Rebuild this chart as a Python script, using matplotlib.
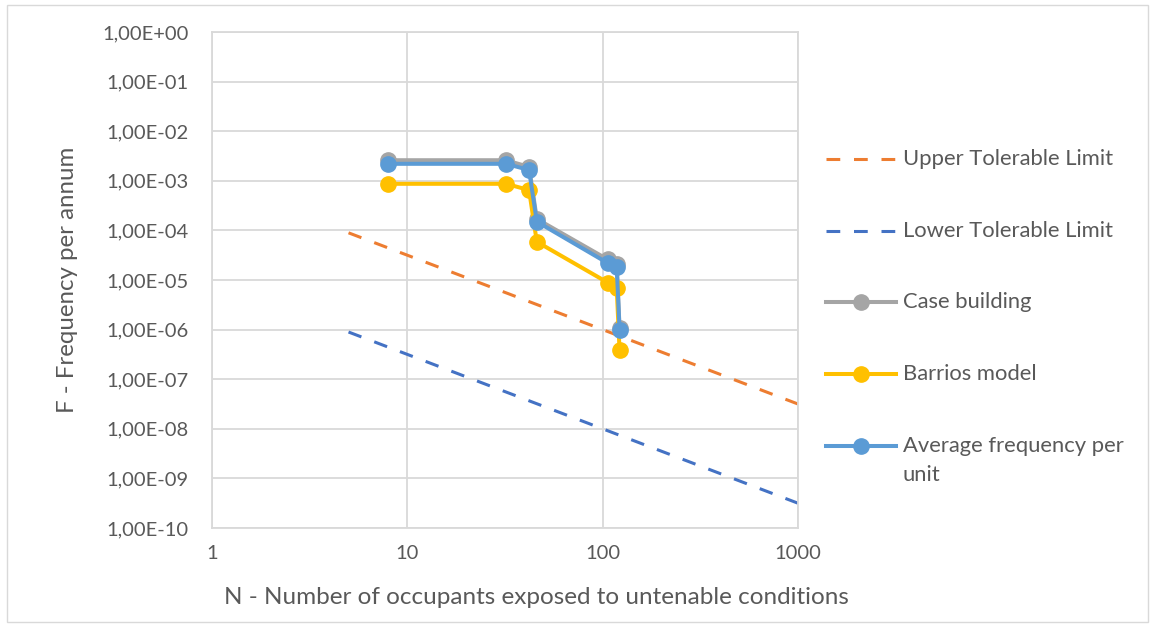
import matplotlib
matplotlib.use("Agg")
import matplotlib.pyplot as plt
from matplotlib.lines import Line2D
from matplotlib.patches import Rectangle
from matplotlib.ticker import FixedLocator, FuncFormatter, NullLocator

plt.rcParams['font.family'] = ['Lato', 'DejaVu Sans']

# Number of occupants exposed (N) for each scenario step
n_occupants = [8, 32, 42, 46, 106, 118, 122]

# Cumulative frequency per annum (F)
case_building = [2.6e-3, 2.6e-3, 1.9e-3, 1.7e-4, 2.6e-5, 2.1e-5, 1.1e-6]
barrios_model = [8.7e-4, 8.7e-4, 6.5e-4, 5.9e-5, 8.9e-6, 7.0e-6, 3.9e-7]
average_per_unit = [2.2e-3, 2.2e-3, 1.65e-3, 1.5e-4, 2.2e-5, 1.85e-5, 1.0e-6]

# Tolerability criteria, straight lines on log-log axes
limit_n = [5, 1000]
upper_limit = [8.94e-5, 3.16e-8]
lower_limit = [8.94e-7, 3.16e-10]

x_ticks = [1, 10, 100, 1000]
y_ticks = [10.0 ** -k for k in range(0, 11)]

C_UPPER = '#ED7D31'
C_LOWER = '#4472C4'
C_CASE = '#A5A5A5'
C_BARRIOS = '#FFC000'
C_AVG = '#5B9BD5'
TEXT = '#595959'
GRID = '#D9D9D9'

W, H = 1152, 628
fig = plt.figure(figsize=(W / 100, H / 100), dpi=100)
ax = fig.add_axes([212 / W, 1 - 528 / H, (798 - 212) / W, (528 - 32) / H])

dash = (0, (4.5, 4.5))
ax.plot(limit_n, upper_limit, color=C_UPPER, lw=2.2, linestyle=dash)
ax.plot(limit_n, lower_limit, color=C_LOWER, lw=2.2, linestyle=dash)

mk = dict(marker='o', markersize=11, lw=2.9)
ax.plot(n_occupants, case_building, color=C_CASE, **mk)
ax.plot(n_occupants, barrios_model, color=C_BARRIOS, **mk)
ax.plot(n_occupants, average_per_unit, color=C_AVG, **mk)

ax.set_xscale('log')
ax.set_yscale('log')
ax.set_xlim(1, 1000)
ax.set_ylim(1e-10, 1)

ax.xaxis.set_major_locator(FixedLocator(x_ticks))
ax.xaxis.set_minor_locator(NullLocator())
ax.yaxis.set_major_locator(FixedLocator(y_ticks))
ax.yaxis.set_minor_locator(NullLocator())
ax.xaxis.set_major_formatter(FuncFormatter(lambda v, p: f"{v:g}"))
ax.yaxis.set_major_formatter(FuncFormatter(lambda v, p: f"{v:.2E}".replace('.', ',')))

ax.grid(True, color=GRID, lw=1.3)
ax.set_axisbelow(True)
for side in ['top', 'right', 'left', 'bottom']:
    ax.spines[side].set_color(GRID)
    ax.spines[side].set_linewidth(1.3)
ax.tick_params(axis='both', length=0, labelsize=14.5, colors=TEXT)
ax.tick_params(axis='y', pad=17)
ax.tick_params(axis='x', pad=12)

fig.text(536 / W, 1 - 598 / H, 'N - Number of occupants exposed to untenable conditions',
         ha='center', va='center', fontsize=17.5, color=TEXT)
fig.text(68 / W, 1 - 280 / H, 'F - Frequency per annum', rotation=90,
         ha='center', va='center', fontsize=17.3, color=TEXT)

# Legend drawn at fixed positions to the right of the plot
LEG_FS = 15.8
entries = [
    ('Upper Tolerable Limit', C_UPPER, True, 159),
    ('Lower Tolerable Limit', C_LOWER, True, 231),
    ('Case building', C_CASE, False, 302),
    ('Barrios model', C_BARRIOS, False, 374),
    ('Average frequency per\nunit', C_AVG, False, 446),
]
for label, color, dashed, ypx in entries:
    yf = 1 - ypx / H
    if dashed:
        fig.add_artist(Line2D([826 / W, 896 / W], [yf, yf], transform=fig.transFigure,
                              color=color, lw=2.2, linestyle=dash))
    else:
        fig.add_artist(Line2D([826 / W, 896 / W], [yf, yf], transform=fig.transFigure,
                              color=color, lw=2.9))
        fig.add_artist(Line2D([861 / W], [yf], transform=fig.transFigure,
                              color=color, marker='o', markersize=11, lw=0))
    lines = label.split('\n')
    for i, line in enumerate(lines):
        fig.text(903 / W, 1 - (ypx + 29 * i) / H, line, ha='left', va='center',
                 fontsize=LEG_FS, color=TEXT)

fig.add_artist(Rectangle((7 / W, 1 - 622 / H), (1148 - 7) / W, (622 - 5) / H,
                         transform=fig.transFigure, fill=False, edgecolor=GRID, lw=1))

fig.savefig('out.png', dpi=100)
